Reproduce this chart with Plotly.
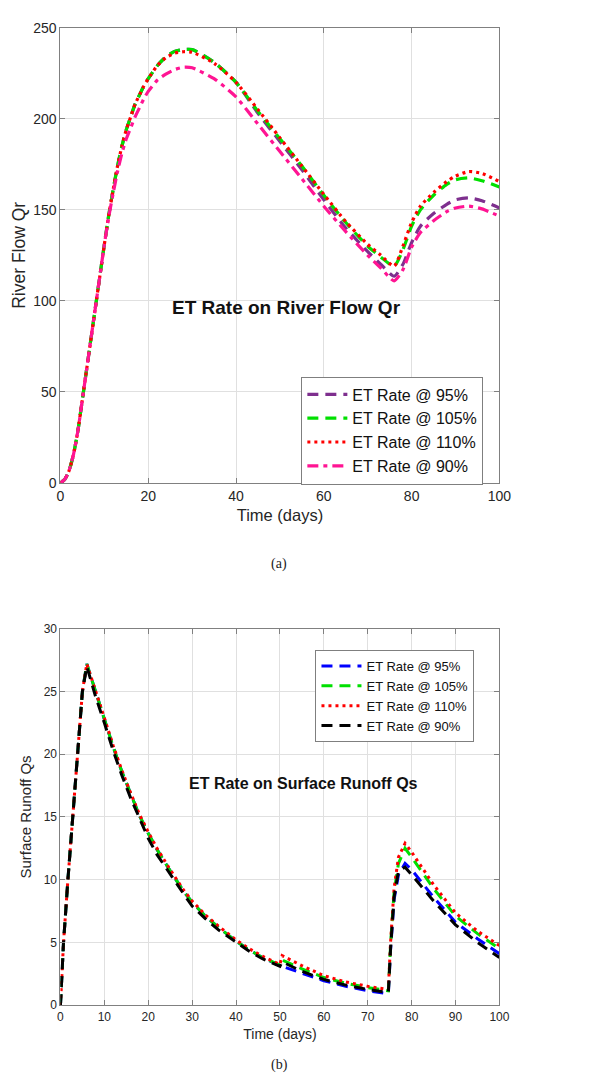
import plotly.graph_objects as go

# ---------------- Data: (a) River Flow Qr ----------------
t_qr = [0, 1, 2, 3, 4, 5, 6, 7, 8, 9, 10, 11, 12, 13, 14, 15, 16, 17, 18, 19, 20,
        22, 24, 26, 28, 30, 35, 40, 45, 50, 55, 60, 65, 70, 73, 76,
        78, 80, 82, 85, 88, 90, 93, 96, 100]
qr_95 = [0, 2, 7, 16, 29, 46, 63, 80, 97, 114, 131, 147, 161, 174, 185, 194, 201, 208, 213, 218, 222,
         229, 234, 237, 238, 238, 231, 220, 203, 187.5, 172, 155.5, 140, 127, 120, 113.5,
         120, 132, 141, 148, 153, 155.5, 156.5, 155, 151]
qr_105 = [0, 2, 7, 16, 29, 46, 63, 80, 97, 114, 131, 147, 161, 174, 185, 194, 201, 208, 213, 218, 222,
          229, 234, 237, 238, 238, 231, 220, 204, 189, 174, 158, 143, 130, 124, 119,
          128, 141, 150, 158, 164, 166.5, 167.5, 166, 162.5]
qr_110 = [0, 2, 7, 16, 29, 46, 63, 80, 97, 114, 131, 147, 161, 174, 185, 194, 201, 208, 213, 218, 222,
          229, 233.5, 236, 236.8, 236.5, 230.5, 220, 205, 189.5, 174, 158.5, 143.5, 131, 125, 119,
          130, 143, 152, 159.5, 165.5, 168.5, 171, 170, 165.5]
qr_90 = [0, 2, 7, 16, 29, 46, 63, 80, 97, 114, 131, 146, 159, 171, 181, 189, 195, 201, 206, 211, 215,
         221, 224.5, 227, 228.3, 228, 222, 212, 197, 182, 167, 152, 138, 125, 118, 111,
         117, 129.5, 137.5, 144, 149, 151, 152, 150.5, 146.5]

# ---------------- Data: (b) Surface Runoff Qs ----------------
t_qs = [0, 0.7, 1.7, 2.8, 3.8, 5, 6, 8, 10, 12, 14, 16, 18, 20, 22,
        25, 28, 30, 33, 36, 40, 43, 46, 50, 50.5, 55, 60, 65, 70, 74.7,
        75.2, 76, 77, 78.5, 80, 85, 90, 95, 100]
qs_95 = [0, 5, 10, 15, 20, 25, 27.2, 25.0, 22.8, 20.6, 18.6, 16.8, 15.1, 13.7, 12.4,
         10.7, 9.1, 8.2, 7.1, 6.2, 5.1, 4.4, 3.8, 3.15, 3.1, 2.55, 1.95, 1.5, 1.15, 0.9,
         4.4, 8.4, 10.4, 11.3, 10.8, 8.6, 6.6, 5.3, 4.1]
qs_105 = [0, 5, 10, 15, 20, 25, 27.2, 25.0, 22.8, 20.6, 18.6, 16.8, 15.1, 13.7, 12.4,
          10.7, 9.1, 8.2, 7.1, 6.2, 5.1, 4.4, 3.8, 3.2, 3.6, 2.9, 2.2, 1.75, 1.4, 1.15,
          4.8, 9.0, 11.3, 12.5, 11.8, 9.3, 7.1, 5.7, 4.5]
qs_110 = [0, 5, 10, 15, 20, 25, 27.2, 25.1, 22.9, 20.7, 18.7, 16.9, 15.2, 13.8, 12.5,
          10.8, 9.2, 8.3, 7.2, 6.3, 5.2, 4.5, 3.9, 3.25, 3.95, 3.15, 2.35, 1.85, 1.5, 1.25,
          5.0, 9.3, 11.8, 12.9, 12.2, 9.6, 7.35, 5.9, 4.75]
qs_90 = [0, 5, 10, 15, 20, 25, 27.0, 24.6, 22.5, 20.3, 18.3, 16.5, 14.9, 13.3, 12.0,
         10.4, 8.9, 7.9, 6.9, 6.0, 5.0, 4.3, 3.7, 3.1, 3.45, 2.7, 2.05, 1.6, 1.25, 1.0,
         4.5, 8.6, 10.7, 11.0, 10.4, 8.3, 6.4, 5.0, 3.8]

names = ["ET Rate @ 95%", "ET Rate @ 105%", "ET Rate @ 110%", "ET Rate @ 90%"]

DASH = "11px,7px"
DOT = "3px,4px"
DASHDOT = "11px,5px,4px,5px"
FONT = "Liberation Sans, Arial, sans-serif"

fig = go.Figure()

top_styles = [("#7E2F8E", DASH), ("#00E000", DASH), ("#FF0000", DOT), ("#FF1493", DASHDOT)]
for name, ys, (col, dash) in zip(names, [qr_95, qr_105, qr_110, qr_90], top_styles):
    fig.add_trace(go.Scatter(x=t_qr, y=ys, name=name, mode="lines", xaxis="x", yaxis="y",
                             line=dict(color=col, width=3.2, dash=dash, shape="spline", smoothing=0.6),
                             legend="legend"))

bot_styles = [("#0000FF", DASH), ("#00E000", DASH), ("#FF0000", DOT), ("#000000", DASH)]
for name, ys, (col, dash) in zip(names, [qs_95, qs_105, qs_110, qs_90], bot_styles):
    fig.add_trace(go.Scatter(x=t_qs, y=ys, name=name, mode="lines", xaxis="x2", yaxis="y2",
                             line=dict(color=col, width=3, dash=dash),
                             legend="legend2"))

H = 1091.0
W = 600.0
x_dom = [58 / W, 509 / W]

axis_common = dict(showline=True, linecolor="#808080", linewidth=1, mirror="ticks",
                   ticks="inside", ticklen=5, tickcolor="#808080",
                   showgrid=True, gridcolor="#e0e0e0", gridwidth=1, zeroline=False)

fig.update_layout(
    width=600, height=1091,
    margin=dict(l=0, r=0, t=0, b=0),
    paper_bgcolor="white", plot_bgcolor="white",
    font=dict(family=FONT, color="#262626"),
    xaxis=dict(domain=x_dom, anchor="y", range=[0, 100], dtick=20, tick0=0,
               title=dict(text="Time (days)", font=dict(size=16.5), standoff=6),
               tickfont=dict(family=FONT, color="#262626", size=14), **axis_common),
    yaxis=dict(domain=[1 - 482 / H, 1 - 20 / H], anchor="x", range=[0, 250], dtick=50, tick0=0,
               title=dict(text="River Flow Qr", font=dict(size=17.5), standoff=3),
               tickfont=dict(family=FONT, color="#262626", size=14), **axis_common),
    xaxis2=dict(domain=x_dom, anchor="y2", range=[0, 100], dtick=10, tick0=0,
                title=dict(text="Time (days)", font=dict(size=14), standoff=6),
                tickfont=dict(family=FONT, color="#262626", size=12), **axis_common),
    yaxis2=dict(domain=[1 - 1012 / H, 1 - 630 / H], anchor="x2", range=[0, 30], dtick=5, tick0=0,
                title=dict(text="Surface Runoff Qs", font=dict(size=15), standoff=8),
                tickfont=dict(family=FONT, color="#262626", size=12), **axis_common),
    legend=dict(x=305.5 / W, y=1 - 374 / H, xanchor="left", yanchor="top",
                bgcolor="white", bordercolor="#7f7f7f", borderwidth=1,
                font=dict(family=FONT, size=16, color="#111111"),
                tracegroupgap=0, itemwidth=40),
    legend2=dict(x=320 / W, y=1 - 651.5 / H, xanchor="left", yanchor="top",
                 bgcolor="white", bordercolor="#7f7f7f", borderwidth=1,
                 font=dict(family=FONT, size=13, color="#111111"),
                 tracegroupgap=0, itemwidth=40),
    annotations=[
        dict(x=51.5, y=96.4, xref="x", yref="y", text="<b>ET Rate on River Flow Qr</b>",
             showarrow=False, font=dict(family=FONT, size=19, color="#111111")),
        dict(x=55.3, y=17.65, xref="x2", yref="y2", text="<b>ET Rate on Surface Runoff Qs</b>",
             showarrow=False, font=dict(family=FONT, size=16, color="#111111")),
        dict(x=283 / W, y=1 - 564 / H, xref="paper", yref="paper", text="(a)",
             showarrow=False, font=dict(family="Liberation Serif, serif", size=14, color="#222222")),
        dict(x=283 / W, y=1 - 1083 / H, xref="paper", yref="paper", text="(b)",
             showarrow=False, font=dict(family="Liberation Serif, serif", size=14, color="#222222")),
    ],
)

fig.write_html("out.html")
